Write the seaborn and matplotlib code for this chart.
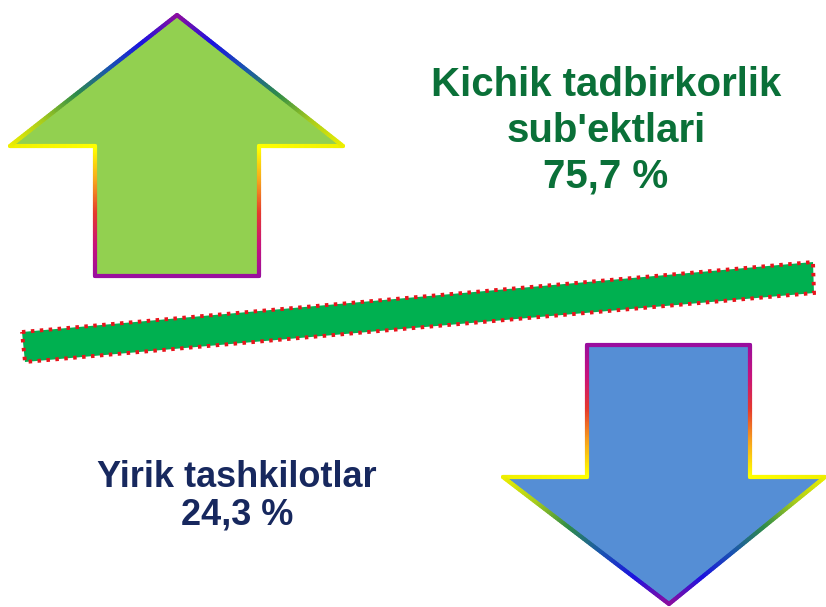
import matplotlib
matplotlib.use("Agg")
import matplotlib.pyplot as plt
import numpy as np
import seaborn as sns
from matplotlib.collections import LineCollection
from matplotlib.colors import LinearSegmentedColormap
from matplotlib.patches import Polygon

# ma'lumotlar
groups = ["Kichik tadbirkorlik\nsub'ektlari", "Yirik tashkilotlar"]
shares = [75.7, 24.3]
text_colors = ["#0a7038", "#17285e"]
fill_colors = ["#92d050", "#558ed5"]

sns.set_theme(style="white")
plt.rcParams["font.family"] = ["Liberation Sans", "DejaVu Sans"]

W, H = 826, 607
fig = plt.figure(figsize=(W / 100, H / 100), dpi=100)
ax = fig.add_axes([0, 0, 1, 1])
ax.set_xlim(0, W)
ax.set_ylim(H, 0)
ax.axis("off")

# gradient ramka uchun ranglar
shaft_cmap = LinearSegmentedColormap.from_list(
    "shaft", ["#9a0e9e", "#c8127c", "#e63a2c", "#f7a51c", "#ffff00"])
head_cmap = LinearSegmentedColormap.from_list(
    "head", ["#f0f000", "#a8cc1c", "#2f8c48", "#1a55b0", "#1c12e0", "#8a0ea0"])
base_cmap = LinearSegmentedColormap.from_list("base", ["#9a0e9e", "#9a0e9e"])
yel_cmap = LinearSegmentedColormap.from_list("yel", ["#ffff00", "#f0f000"])


def grad_edge(p0, p1, cmap, n=80):
    t = np.linspace(0, 1, n + 1)
    xs = p0[0] + (p1[0] - p0[0]) * t
    ys = p0[1] + (p1[1] - p0[1]) * t
    pts = np.column_stack([xs, ys])
    segs = np.stack([pts[:-1], pts[1:]], axis=1)
    cols = cmap((t[:-1] + t[1:]) / 2)
    return segs, cols


def arrow(cx, tip_y, head_y, end_y, head_l, head_r, sh_l, sh_r, fill):
    verts = [(sh_l, end_y), (sh_l, head_y), (head_l, head_y), (cx, tip_y),
             (head_r, head_y), (sh_r, head_y), (sh_r, end_y)]
    ax.add_patch(Polygon(verts, closed=True, facecolor=fill,
                         edgecolor="none", zorder=2))
    edges = [
        ((sh_l, end_y), (sh_l, head_y), shaft_cmap),
        ((sh_r, end_y), (sh_r, head_y), shaft_cmap),
        ((sh_l, head_y), (head_l, head_y), yel_cmap),
        ((sh_r, head_y), (head_r, head_y), yel_cmap),
        ((head_l, head_y), (cx, tip_y), head_cmap),
        ((head_r, head_y), (cx, tip_y), head_cmap),
        ((sh_l, end_y), (sh_r, end_y), base_cmap),
    ]
    all_segs, all_cols = [], []
    for p0, p1, cm in edges:
        s, c = grad_edge(p0, p1, cm)
        all_segs.append(s)
        all_cols.append(c)
    lc = LineCollection(np.concatenate(all_segs), colors=np.concatenate(all_cols),
                        linewidths=3.0, capstyle="round", zorder=3)
    ax.add_collection(lc)


# yuqoriga strelka (kichik tadbirkorlik)
arrow(177, 15, 146, 276, 10, 343, 95, 259, fill_colors[0])
# pastga strelka (yirik tashkilotlar)
arrow(669, 604, 477, 345, 503, 825, 587, 750, fill_colors[1])

# qiya tasma
band = [(22, 332), (813, 262), (814, 293), (25, 362)]
ax.add_patch(Polygon(band, closed=True, facecolor="#00b050",
                     edgecolor="#e8141c", linewidth=2.8,
                     linestyle=(0, (0.9, 1.4)), zorder=2))


def fmt(v):
    return f"{v:.1f}".replace(".", ",") + " %"


ax.text(606, 187, groups[0] + "\n" + fmt(shares[0]), ha="center", va="baseline",
        fontsize=29, fontweight="bold", color=text_colors[0],
        linespacing=1.25, zorder=4)
ax.text(237, 525, groups[1] + "\n" + fmt(shares[1]), ha="center", va="baseline",
        fontsize=26, fontweight="bold", color=text_colors[1],
        linespacing=1.1, zorder=4)

fig.savefig("out.png", dpi=100, facecolor="white")
